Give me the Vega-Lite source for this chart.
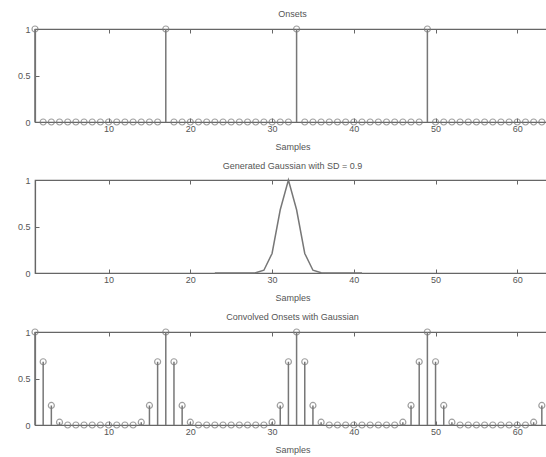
{
  "$schema": "https://vega.github.io/schema/vega-lite/v6.json",
  "background": "white",
  "padding": {"left": 16, "top": 9, "right": 0, "bottom": 0},
  "spacing": 9,
  "config": {
    "view": {"stroke": "#666", "strokeWidth": 1.2},
    "font": "Liberation Sans",
    "axis": {
      "grid": false,
      "domainColor": "#666",
      "domainWidth": 1.2,
      "tickColor": "#666",
      "tickSize": -4,
      "labelColor": "#555",
      "labelFont": "Liberation Sans",
      "labelFontSize": 9,
      "titleColor": "#555",
      "titleFont": "Liberation Sans",
      "titleFontSize": 9,
      "titleFontWeight": "normal",
      "titlePadding": 9
    },
    "axisX": {"labelPadding": 6},
    "axisY": {"labelPadding": 9},
    "title": {"fontSize": 9, "fontWeight": "normal", "color": "#555", "font": "Liberation Sans", "offset": 5}
  },
  "datasets": {
    "onsets": [
      {"n":1,"v":1},{"n":2,"v":0},{"n":3,"v":0},{"n":4,"v":0},{"n":5,"v":0},{"n":6,"v":0},{"n":7,"v":0},{"n":8,"v":0},
      {"n":9,"v":0},{"n":10,"v":0},{"n":11,"v":0},{"n":12,"v":0},{"n":13,"v":0},{"n":14,"v":0},{"n":15,"v":0},{"n":16,"v":0},
      {"n":17,"v":1},{"n":18,"v":0},{"n":19,"v":0},{"n":20,"v":0},{"n":21,"v":0},{"n":22,"v":0},{"n":23,"v":0},{"n":24,"v":0},
      {"n":25,"v":0},{"n":26,"v":0},{"n":27,"v":0},{"n":28,"v":0},{"n":29,"v":0},{"n":30,"v":0},{"n":31,"v":0},{"n":32,"v":0},
      {"n":33,"v":1},{"n":34,"v":0},{"n":35,"v":0},{"n":36,"v":0},{"n":37,"v":0},{"n":38,"v":0},{"n":39,"v":0},{"n":40,"v":0},
      {"n":41,"v":0},{"n":42,"v":0},{"n":43,"v":0},{"n":44,"v":0},{"n":45,"v":0},{"n":46,"v":0},{"n":47,"v":0},{"n":48,"v":0},
      {"n":49,"v":1},{"n":50,"v":0},{"n":51,"v":0},{"n":52,"v":0},{"n":53,"v":0},{"n":54,"v":0},{"n":55,"v":0},{"n":56,"v":0},
      {"n":57,"v":0},{"n":58,"v":0},{"n":59,"v":0},{"n":60,"v":0},{"n":61,"v":0},{"n":62,"v":0},{"n":63,"v":0},{"n":64,"v":0}
    ],
    "gauss": [
      {"n":23,"v":0},{"n":24,"v":0},{"n":25,"v":0},{"n":26,"v":0},{"n":27,"v":0},{"n":28,"v":0.002},{"n":29,"v":0.03},
      {"n":30,"v":0.21},{"n":31,"v":0.68},{"n":32,"v":1},{"n":33,"v":0.68},{"n":34,"v":0.21},{"n":35,"v":0.03},
      {"n":36,"v":0.002},{"n":37,"v":0},{"n":38,"v":0},{"n":39,"v":0},{"n":40,"v":0},{"n":41,"v":0}
    ],
    "conv": [
      {"n":1,"v":1},{"n":2,"v":0.68},{"n":3,"v":0.21},{"n":4,"v":0.03},{"n":5,"v":0},{"n":6,"v":0},{"n":7,"v":0},{"n":8,"v":0},
      {"n":9,"v":0},{"n":10,"v":0},{"n":11,"v":0},{"n":12,"v":0},{"n":13,"v":0},{"n":14,"v":0.03},{"n":15,"v":0.21},{"n":16,"v":0.68},
      {"n":17,"v":1},{"n":18,"v":0.68},{"n":19,"v":0.21},{"n":20,"v":0.03},{"n":21,"v":0},{"n":22,"v":0},{"n":23,"v":0},{"n":24,"v":0},
      {"n":25,"v":0},{"n":26,"v":0},{"n":27,"v":0},{"n":28,"v":0},{"n":29,"v":0},{"n":30,"v":0.03},{"n":31,"v":0.21},{"n":32,"v":0.68},
      {"n":33,"v":1},{"n":34,"v":0.68},{"n":35,"v":0.21},{"n":36,"v":0.03},{"n":37,"v":0},{"n":38,"v":0},{"n":39,"v":0},{"n":40,"v":0},
      {"n":41,"v":0},{"n":42,"v":0},{"n":43,"v":0},{"n":44,"v":0},{"n":45,"v":0},{"n":46,"v":0.03},{"n":47,"v":0.21},{"n":48,"v":0.68},
      {"n":49,"v":1},{"n":50,"v":0.68},{"n":51,"v":0.21},{"n":52,"v":0.03},{"n":53,"v":0},{"n":54,"v":0},{"n":55,"v":0},{"n":56,"v":0},
      {"n":57,"v":0},{"n":58,"v":0},{"n":59,"v":0},{"n":60,"v":0},{"n":61,"v":0},{"n":62,"v":0.03},{"n":63,"v":0.21},{"n":64,"v":0.68}
    ]
  },
  "vconcat": [
    {
      "title": "Onsets",
      "width": 515,
      "height": 93,
      "data": {"name": "onsets"},
      "encoding": {
        "x": {"field": "n", "type": "quantitative", "scale": {"domain": [1, 64], "nice": false, "zero": false},
              "axis": {"title": "Samples", "values": [10, 20, 30, 40, 50, 60]}},
        "y": {"field": "v", "type": "quantitative", "scale": {"domain": [0, 1], "nice": false},
              "axis": {"title": null, "values": [0, 0.5, 1], "format": "~g"}}
      },
      "resolve": {"axis": {"x": "independent"}},
      "layer": [
        {"mark": {"type": "rule", "color": "#777", "strokeWidth": 1.5}, "encoding": {"y2": {"datum": 0}}},
        {"mark": {"type": "point", "shape": "circle", "filled": false, "color": "#777", "size": 36, "strokeWidth": 1.2},
         "encoding": {"x": {"field": "n", "type": "quantitative", "axis": {"orient": "top", "labels": false, "title": null, "domain": false, "values": [10, 20, 30, 40, 50, 60]}}}}
      ]
    },
    {
      "title": "Generated Gaussian with SD = 0.9",
      "width": 515,
      "height": 93,
      "data": {"name": "gauss"},
      "encoding": {
        "x": {"field": "n", "type": "quantitative", "scale": {"domain": [1, 64], "nice": false, "zero": false},
              "axis": {"title": "Samples", "values": [10, 20, 30, 40, 50, 60]}},
        "y": {"field": "v", "type": "quantitative", "scale": {"domain": [0, 1], "nice": false},
              "axis": {"title": null, "values": [0, 0.5, 1], "format": "~g"}}
      },
      "resolve": {"axis": {"x": "independent"}},
      "layer": [
        {"mark": {"type": "line", "color": "#777", "strokeWidth": 1.5}},
        {"mark": {"type": "point", "opacity": 0},
         "encoding": {"x": {"field": "n", "type": "quantitative", "axis": {"orient": "top", "labels": false, "title": null, "domain": false, "values": [10, 20, 30, 40, 50, 60]}}}}
      ]
    },
    {
      "title": "Convolved Onsets with Gaussian",
      "width": 515,
      "height": 93,
      "data": {"name": "conv"},
      "encoding": {
        "x": {"field": "n", "type": "quantitative", "scale": {"domain": [1, 64], "nice": false, "zero": false},
              "axis": {"title": "Samples", "values": [10, 20, 30, 40, 50, 60]}},
        "y": {"field": "v", "type": "quantitative", "scale": {"domain": [0, 1], "nice": false},
              "axis": {"title": null, "values": [0, 0.5, 1], "format": "~g"}}
      },
      "resolve": {"axis": {"x": "independent"}},
      "layer": [
        {"mark": {"type": "rule", "color": "#777", "strokeWidth": 1.5}, "encoding": {"y2": {"datum": 0}}},
        {"mark": {"type": "point", "shape": "circle", "filled": false, "color": "#777", "size": 36, "strokeWidth": 1.2},
         "encoding": {"x": {"field": "n", "type": "quantitative", "axis": {"orient": "top", "labels": false, "title": null, "domain": false, "values": [10, 20, 30, 40, 50, 60]}}}}
      ]
    }
  ]
}
